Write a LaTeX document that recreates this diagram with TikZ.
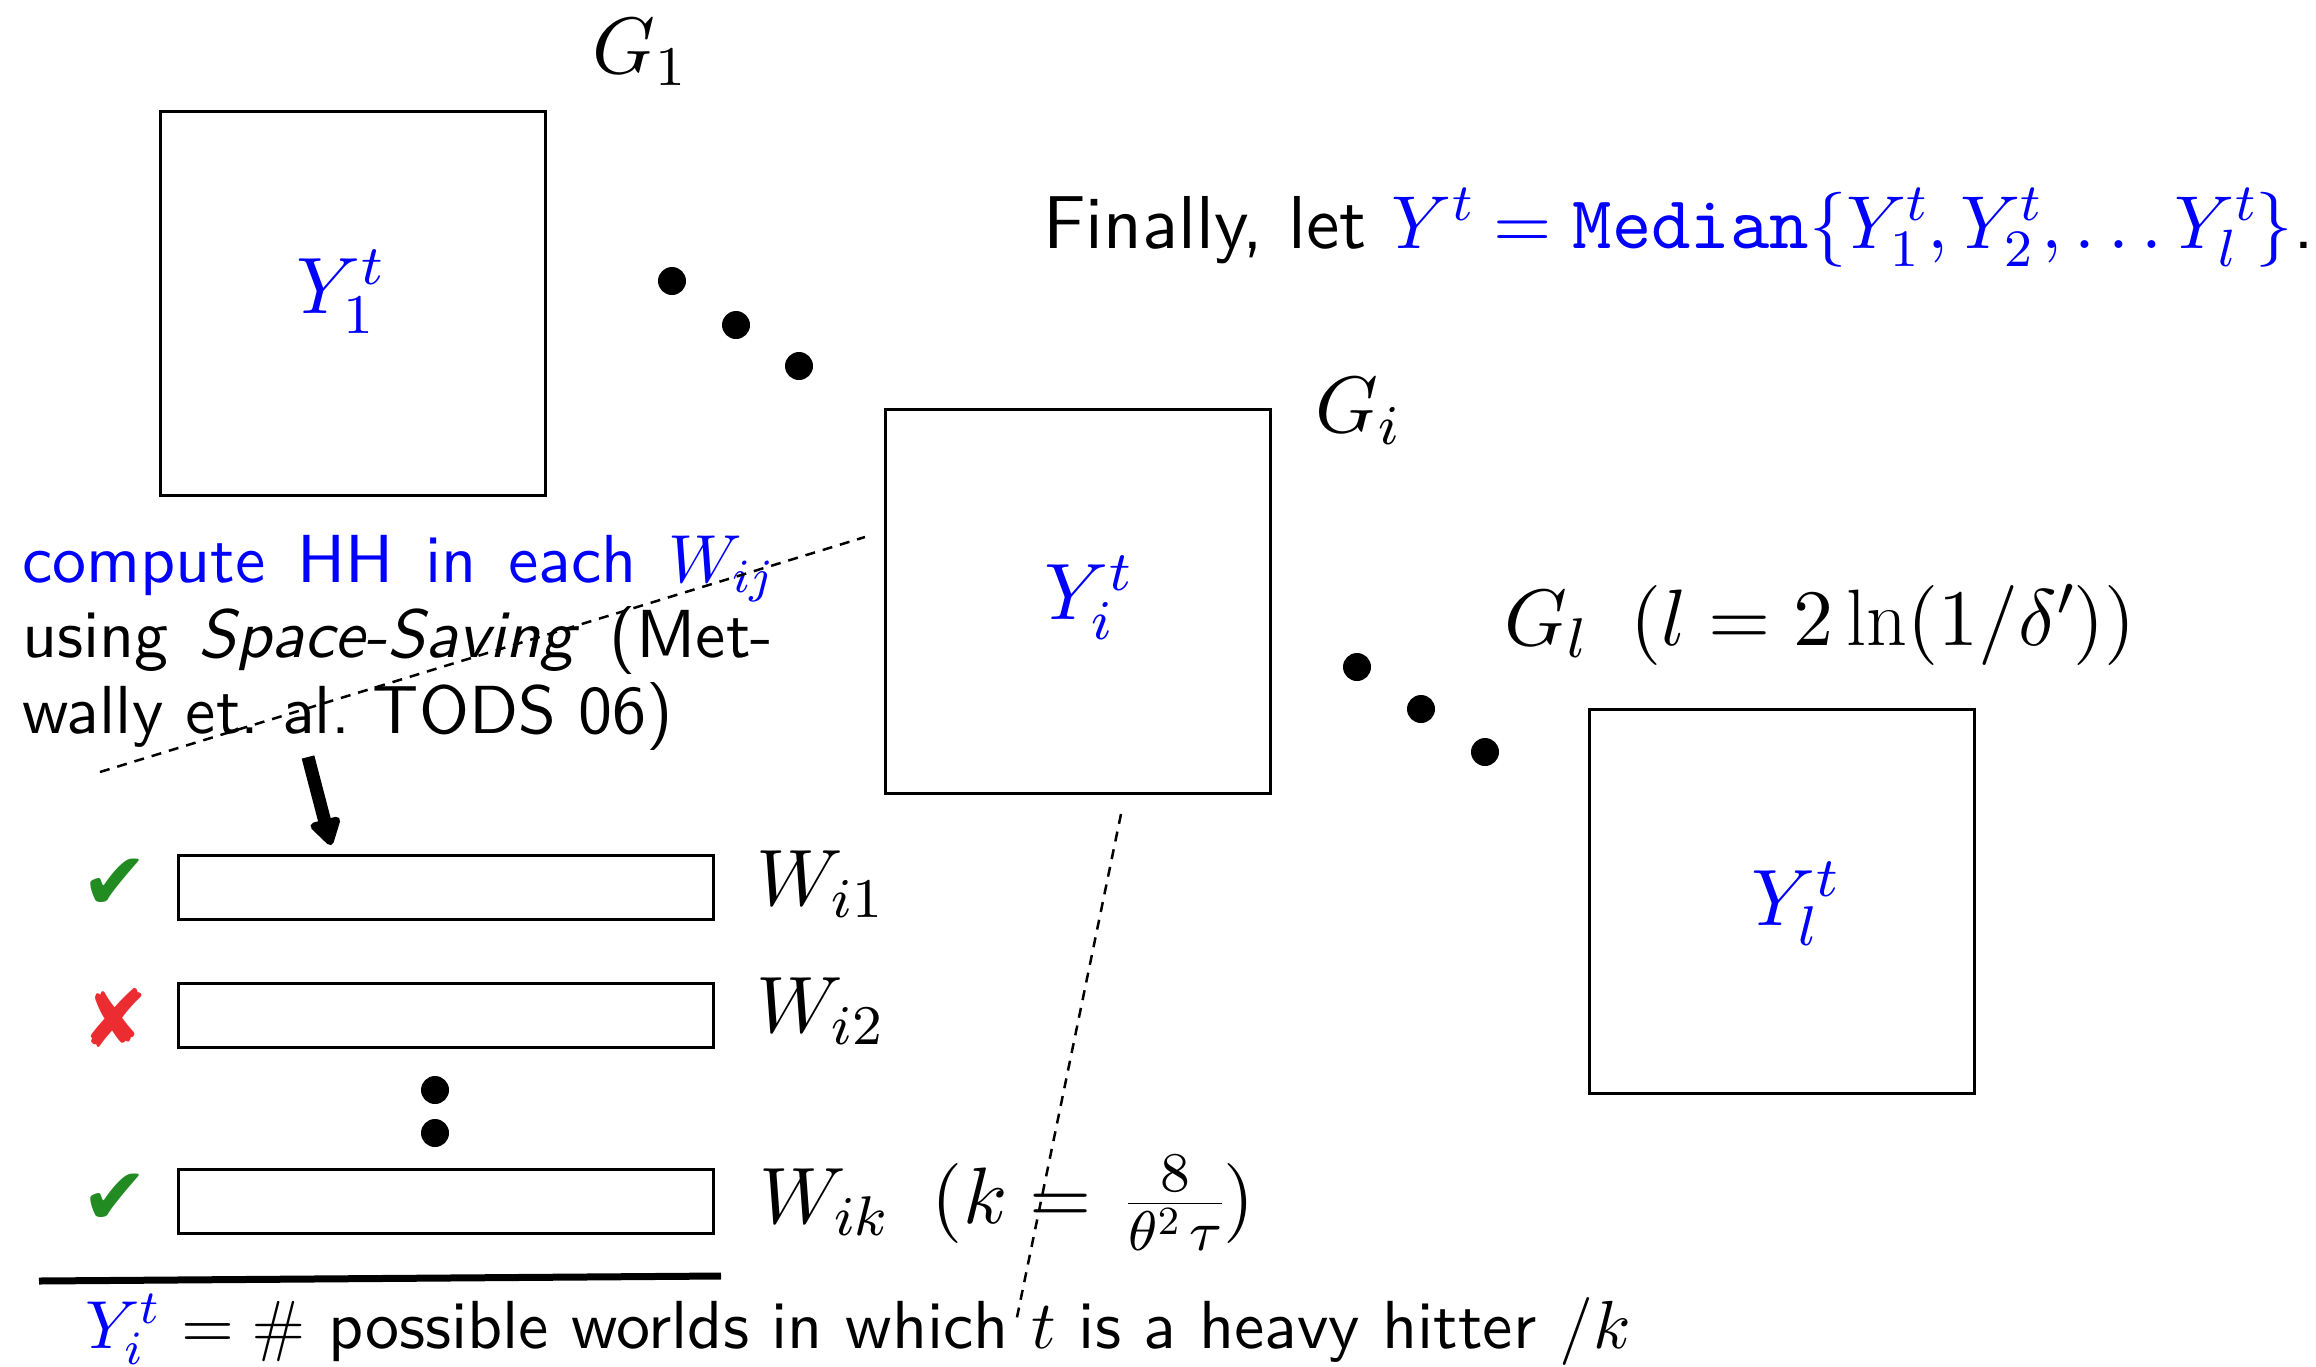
\RequirePackage{fix-cm}
\documentclass[tikz,border=0pt]{standalone}
\usepackage{fontspec}
\setsansfont{lmsans10-regular.otf}[ItalicFont=lmsans10-oblique.otf]
\setmonofont{lmmono10-regular.otf}
\newfontfamily\dejavu{DejaVu Sans}
\DeclareFontFamily{OML}{cmm}{\skewchar\font127}
\DeclareFontShape{OML}{cmm}{m}{it}{<-40>cmmi6<40-60>cmmi8<60->cmmi10}{}
\DeclareFontFamily{OT1}{cmr}{\hyphenchar\font45}
\DeclareFontShape{OT1}{cmr}{m}{n}{<-40>cmr6<40-60>cmr8<60->cmr10}{}
\DeclareFontFamily{OMS}{cmsy}{\skewchar\font48}
\DeclareFontShape{OMS}{cmsy}{m}{n}{<-40>cmsy6<40-60>cmsy8<60->cmsy10}{}
\usetikzlibrary{arrows.meta}
\definecolor{okgreen}{RGB}{34,139,34}
\definecolor{nored}{RGB}{235,45,50}
\tikzset{
  gbox/.style={draw, line width=3pt, minimum width=385pt, minimum height=384pt, inner sep=0pt},
  wbar/.style={draw, line width=3pt, minimum width=535pt, minimum height=64pt, inner sep=0pt},
  bigdot/.style={circle, fill, inner sep=0pt, minimum size=28pt},
  lbl/.style={font=\fontsize{80}{96}\selectfont, inner sep=0pt},
  ylbl/.style={font=\fontsize{80}{96}\selectfont, text=blue, inner sep=0pt},
  zoomline/.style={dash pattern=on 10pt off 8pt, line width=2.5pt},
  body/.style={font=\sffamily\fontsize{68}{75.5}\selectfont, inner sep=0pt},
  okmark/.style={font=\dejavu\fontsize{80}{84}\selectfont, text=okgreen, inner sep=0pt},
  nomark/.style={font=\dejavu\fontsize{80}{84}\selectfont, text=nored, inner sep=0pt},
  bigarrow/.style={-{Triangle[round,length=30pt,width=34pt]}, line width=13pt},
  rule/.style={line width=7pt}
}
\begin{document}
\begin{tikzpicture}[x=1pt,y=-1pt]
\useasboundingbox (0,0) rectangle (2316,1366);
% group boxes
\node[gbox] (g1) at (352.5,303) {};
\node[gbox] (gi) at (1078,601) {};
\node[gbox] (gl) at (1782,901) {};
\node[ylbl] (y1) at (340,292) {$Y_1^t$};
\node[ylbl] (yi) at (1088,598) {$Y_i^t$};
\node[ylbl] (yl) at (1795,904) {$Y_l^t$};
% group labels
\node[lbl, anchor=base west] (g1l) at (592,73) {$G_1$};
\node[lbl, anchor=base west] (gil) at (1315,432) {$G_i$};
\node[lbl, anchor=base west] (gll) at (1504,645) {$G_l\hspace{0.55em}(l = 2\ln(1/\delta'))$};
% dots between groups
\node[bigdot] (d1) at (672,281) {};
\node[bigdot] (d2) at (736,325) {};
\node[bigdot] (d3) at (799,366) {};
\node[bigdot] (d4) at (1357,667) {};
\node[bigdot] (d5) at (1421,709) {};
\node[bigdot] (d6) at (1485,752) {};
% final statement
\node[font=\sffamily\fontsize{75}{90}\selectfont, inner sep=0pt, anchor=base west] (fin) at (1043,248)
  {Finally, let {\color{blue}$Y^t = \texttt{Median}\{Y_1^t, Y_2^t, \ldots Y_l^t\}$}.};
% explanation text
\node[body, anchor=base west] (txt) at (22,582)
  {\parbox[t]{751pt}{\leavevmode{\color{blue}compute HH in each $W_{ij}$}\linebreak
   using \emph{Space-Saving} (Met-\linebreak wally et.\ al.\ TODS 06)}};
% zoom lines
\coordinate (z1a) at (100,772);
\coordinate (z1b) at (865,537);
\coordinate (z2a) at (1121,814);
\coordinate (z2b) at (1016,1322);
\draw[zoomline] (z1a) -- (z1b);
\draw[zoomline] (z2a) -- (z2b);
% bars
\node[wbar] (w1) at (445.5,887) {};
\node[wbar] (w2) at (445.5,1015.5) {};
\node[wbar] (wk) at (445.5,1201) {};
\node[lbl, anchor=base west] (w1l) at (756,905) {$W_{i1}$};
\node[lbl, anchor=base west] (w2l) at (756,1032) {$W_{i2}$};
\node[lbl, anchor=base west] (wkl) at (759,1223) {$W_{ik}\hspace{0.55em}(k = \,\frac{8}{\theta^2\,\tau})$};
\node[okmark] (c1) at (115,884) {✔};
\node[nomark] (c2) at (115,1018) {✘};
\node[okmark] (c3) at (115,1199) {✔};
\node[bigdot] (v1) at (435,1090) {};
\node[bigdot] (v2) at (435,1133) {};
% arrow
\coordinate (a1) at (308,757);
\coordinate (a2) at (331,845);
\draw[bigarrow] (a1) -- (a2);
% rule and footer
\coordinate (r1) at (39,1281);
\coordinate (r2) at (721,1276);
\draw[rule] (r1) -- (r2);
\node[body, anchor=base west] (foot) at (85,1348)
  {{\color{blue}$Y_i^t$} $= \#$ possible worlds in which $t$ is a heavy hitter $/k$};
\end{tikzpicture}
\end{document}
